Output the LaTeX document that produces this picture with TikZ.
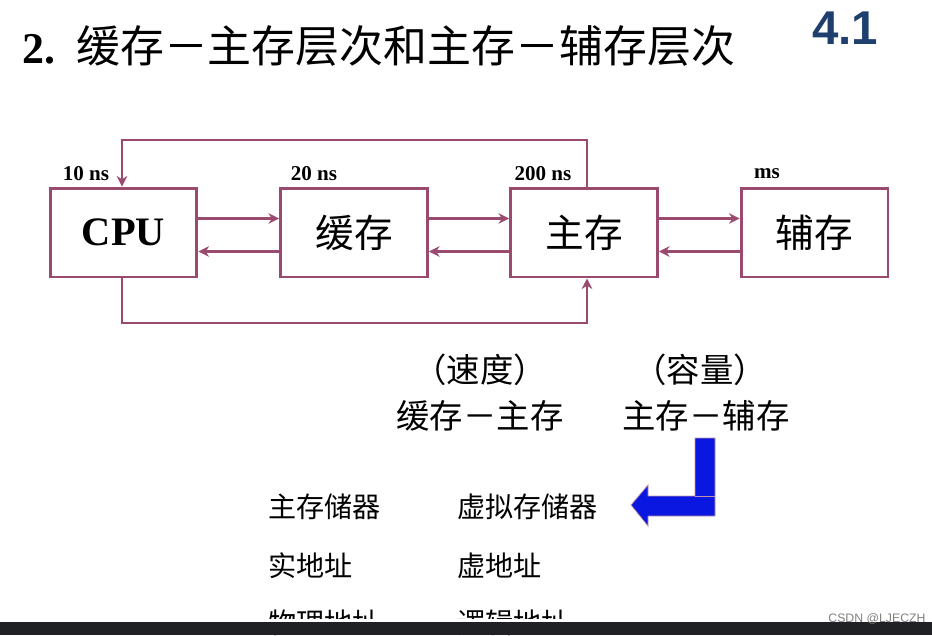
\documentclass[tikz,border=0pt]{standalone}
\usetikzlibrary{arrows.meta}
\usepackage{fontspec}
\setmainfont{Liberation Serif}
\newfontfamily\cjk{Noto Sans CJK SC}
\newfontfamily\hv{Liberation Sans}
\definecolor{boxc}{HTML}{9A4A6E}
\definecolor{arrb}{HTML}{0A17E0}
\definecolor{numc}{HTML}{1F3F6E}
\begin{document}
\begin{tikzpicture}[x=0.02cm,y=-0.02cm,
  blk/.style={draw=boxc,line width=1.7pt,minimum width=2.94cm,minimum height=1.78cm,inner sep=0pt,font=\cjk\fontsize{22}{22}\selectfont},
  ln/.style={draw=boxc,line width=1.5pt,-{Stealth[length=6pt,width=6pt]}},
  lab/.style={font=\bfseries\fontsize{12}{12}\selectfont},
  zh/.style={font=\cjk\fontsize{19}{19}\selectfont}]
\useasboundingbox (0,0) rectangle (932,635);
\node[font=\bfseries\fontsize{25}{25}\selectfont,anchor=west] (t1) at (16,49) {2.};
\node[font=\cjk\fontsize{25}{25}\selectfont,anchor=west] (t2) at (70,46) {缓存－主存层次和主存－辅存层次};
\node[font=\hv\bfseries\fontsize{27}{27}\selectfont,text=numc] (num) at (845,28) {4.1};
\node[blk,font=\bfseries\fontsize{23}{23}\selectfont] (cpu) at (123.5,232.5) {CPU};
\node[blk] (c) at (354,232.5) {缓存};
\node[blk] (m) at (584,232.5) {主存};
\node[blk] (a) at (814.5,232.5) {辅存};
\node[lab] (l1) at (86,174) {10 ns};
\node[lab] (l2) at (314,174) {20 ns};
\node[lab] (l3) at (543,174) {200 ns};
\node[lab] (l4) at (767,174) {ms};
\foreach \p/\q in {cpu/c,c/m,m/a}{
  \draw[ln] ([yshift=0.28cm]\p.east) -- ([yshift=0.28cm]\q.west);
  \draw[ln] ([yshift=-0.38cm]\q.west) -- ([yshift=-0.38cm]\p.east);
}
\coordinate (tl) at (122,140); \coordinate (tr) at (587,140);
\coordinate (bl) at (122,323); \coordinate (br) at (587,323);
\draw[ln] (m.north-|tr) -- (tr) -- (tl) -- (cpu.north-|tl);
\draw[ln] (cpu.south-|bl) -- (bl) -- (br) -- (m.south-|br);
\node[zh] (s1) at (480,370) {（速度）};
\node[zh] (s2) at (700,370) {（容量）};
\node[zh] (s3) at (480,416) {缓存－主存};
\node[zh] (s4) at (706,416) {主存－辅存};
\draw[draw=boxc!60,line width=0.4pt,fill=arrb] (695,438) -- (715,438) -- (715,516) -- (648,516) -- (648,526) -- (631,505) -- (648,485) -- (648,496) -- (695,496) -- cycle;
\draw[draw=boxc!60,line width=0.4pt] (695,496) -- (715,496);
\begin{scope}[every node/.style={zh,font=\cjk\fontsize{16}{16}\selectfont,anchor=west}]
\node (r1a) at (262,507) {主存储器};
\node (r1b) at (451,507) {虚拟存储器};
\node (r2a) at (262,566) {实地址};
\node (r2b) at (451,566) {虚地址};
\node (r3a) at (262,623) {物理地址};
\node (r3b) at (451,623) {逻辑地址};
\end{scope}
\fill[fill=white] (0,619) rectangle (932,622);
\fill[fill={rgb,255:red,32;green,33;blue,36}] (0,622) rectangle (932,635);
\node[font=\hv\fontsize{7}{7}\selectfont,text=gray] (wm) at (877,619) {CSDN @LJECZH};
\end{tikzpicture}
\end{document}
